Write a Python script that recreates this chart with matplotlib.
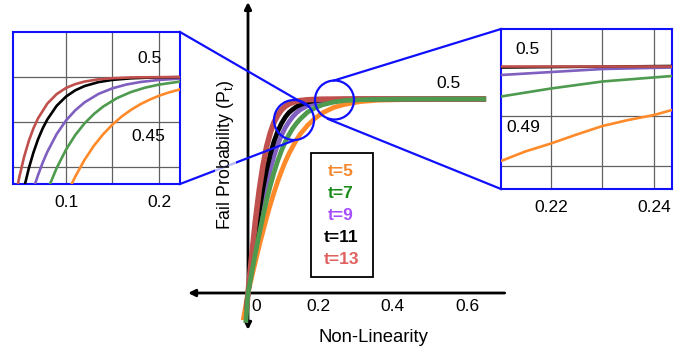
import numpy as np
import matplotlib
matplotlib.use("Agg")
import matplotlib.pyplot as plt
from matplotlib.patches import Ellipse, Rectangle

plt.rcParams['font.family'] = ['Liberation Sans', 'DejaVu Sans']
plt.rcParams['mathtext.fontset'] = 'custom'
plt.rcParams['mathtext.rm'] = 'Liberation Sans'

# series: t=5, 7, 9, 11, 13
labels = ['t=5', 't=7', 't=9', 't=11', 't=13']
line_colors = ['#ff8a2a', '#4e9a4e', '#7f5fbf', '#000000', '#c0504d']
label_colors = ['#f5862a', '#1a8a1a', '#a64dff', '#000000', '#e06060']

# big plot (shared x grid, plus a short tail below zero)
main_grid = [0, 0.01, 0.02, 0.03, 0.04, 0.05, 0.06, 0.07, 0.08, 0.09, 0.10, 0.11, 0.12,
             0.13, 0.14, 0.16, 0.18, 0.20, 0.23, 0.26, 0.30, 0.35, 0.45, 0.64]
main_tail_x = [-0.013, -0.006, -0.005, -0.004, -0.004]
main_tail_y = [-0.07, -0.077, -0.045, -0.04, -0.045]
main_y = [
    [0, 0.041, 0.081, 0.121, 0.158, 0.194, 0.228, 0.259, 0.288, 0.314, 0.338, 0.359,
     0.377, 0.394, 0.409, 0.432, 0.450, 0.464, 0.478, 0.486, 0.493, 0.497, 0.499, 0.5],
    [0, 0.052, 0.103, 0.151, 0.197, 0.239, 0.277, 0.311, 0.341, 0.367, 0.389, 0.408,
     0.424, 0.437, 0.448, 0.466, 0.477, 0.485, 0.492, 0.496, 0.498, 0.499, 0.5, 0.5],
    [0, 0.063, 0.123, 0.181, 0.233, 0.279, 0.319, 0.354, 0.383, 0.406, 0.426, 0.441,
     0.454, 0.464, 0.472, 0.483, 0.489, 0.494, 0.497, 0.499, 0.4995, 0.5, 0.5, 0.5],
    [0, 0.074, 0.146, 0.211, 0.269, 0.318, 0.358, 0.391, 0.417, 0.437, 0.453, 0.465,
     0.473, 0.480, 0.485, 0.492, 0.496, 0.498, 0.499, 0.4996, 0.5, 0.5, 0.5, 0.5],
    [0, 0.097, 0.187, 0.264, 0.327, 0.377, 0.413, 0.440, 0.458, 0.472, 0.481, 0.487,
     0.491, 0.494, 0.496, 0.498, 0.499, 0.4996, 0.4998, 0.5, 0.5, 0.5, 0.5, 0.5],
]
main_order = [0, 2, 3, 4, 1]
main_xticks = [0, 0.2, 0.4, 0.6]

# left zoom box
left_x = [
    [0.1061, 0.11, 0.12, 0.13, 0.14, 0.15, 0.16, 0.17, 0.18, 0.19, 0.20, 0.21, 0.2226],
    [0.0828, 0.09, 0.10, 0.11, 0.12, 0.13, 0.14, 0.155, 0.17, 0.185, 0.20, 0.2226],
    [0.0667, 0.07, 0.075, 0.08, 0.09, 0.10, 0.11, 0.12, 0.135, 0.15, 0.165, 0.18, 0.20, 0.2226],
    [0.0559, 0.06, 0.065, 0.07, 0.075, 0.08, 0.09, 0.10, 0.11, 0.12, 0.135, 0.15, 0.17, 0.19, 0.2226],
    [0.0483, 0.05, 0.055, 0.06, 0.065, 0.07, 0.08, 0.09, 0.10, 0.11, 0.12, 0.135, 0.15, 0.17, 0.2226],
]
left_y = [
    [0.381, 0.3893, 0.408, 0.4235, 0.4364, 0.4472, 0.4561, 0.4635, 0.4697, 0.4748, 0.4791, 0.4826, 0.4862],
    [0.381, 0.3988, 0.4192, 0.4355, 0.4485, 0.4588, 0.4671, 0.4766, 0.4833, 0.4881, 0.4915, 0.4949],
    [0.381, 0.3911, 0.4049, 0.4169, 0.4366, 0.4516, 0.463, 0.4718, 0.4812, 0.4874, 0.4916, 0.4944, 0.4967, 0.4982],
    [0.381, 0.3984, 0.4161, 0.4309, 0.443, 0.4529, 0.468, 0.4782, 0.4852, 0.4899, 0.4943, 0.4968, 0.4985, 0.4993, 0.4998],
    [0.381, 0.3896, 0.4114, 0.4289, 0.4429, 0.4542, 0.4705, 0.481, 0.4878, 0.4921, 0.4949, 0.4974, 0.4986, 0.4995, 0.5],
]

# right zoom box
right_x = [
    [0.2103, 0.215, 0.22, 0.225, 0.23, 0.235, 0.24, 0.2435],
    [0.2103, 0.22, 0.23, 0.2435],
    [0.2103, 0.23, 0.2435],
    [0.2103, 0.2435],
    [0.2103, 0.2435],
]
right_y = [
    [0.481, 0.4829, 0.4845, 0.4863, 0.488, 0.4892, 0.4902, 0.4912],
    [0.4939, 0.4955, 0.4969, 0.498],
    [0.4982, 0.4994, 0.4997],
    [0.4997, 0.5],
    [0.5, 0.5],
]

W, H = 691, 352
BLUE = '#1010ff'
FS = 12.5


def fx(px):
    return px / W


def fy(py):
    return 1 - py / H


fig = plt.figure(figsize=(W / 100, H / 100), dpi=100)

# main axes over the whole figure: origin at pixel (248, 293)
ax = fig.add_axes([0, 0, 1, 1])
ax.set_xlim(-248 / 372, (W - 248) / 372)
ax.set_ylim((293 - H) / 388, 293 / 388)
ax.axis('off')

for i in main_order:
    xs = [main_tail_x[i]] + main_grid
    ys = [main_tail_y[i]] + main_y[i]
    ax.plot(xs, ys, color=line_colors[i], lw=4 if i == 4 else 3.4,
            solid_capstyle='butt', solid_joinstyle='round', zorder=3)

# axes arrows
ax.annotate('', xy=(0, 0.75), xytext=(0, -0.095),
            arrowprops=dict(arrowstyle='<|-|>', color='black', lw=2,
                            mutation_scale=10, shrinkA=0, shrinkB=0), zorder=2)
ax.annotate('', xy=(-0.161, 0), xytext=(0.69, 0),
            arrowprops=dict(arrowstyle='-|>', color='black', lw=2,
                            mutation_scale=10, shrinkA=0, shrinkB=0), zorder=2)

for v in main_xticks:
    if v == 0:
        ax.text(0.01, -0.036, '0', ha='left', va='center', fontsize=FS)
    else:
        ax.text(v - 0.011, -0.036, f'{v:g}', ha='center', va='center', fontsize=FS)
ax.text(0.538, 0.541, '0.5', ha='center', va='center', fontsize=FS)

fig.text(fx(373), fy(337), 'Non-Linearity', ha='center', va='center', fontsize=13.3)
fig.text(fx(225), fy(155), 'Fail Probability (P$_\\mathregular{t}$)', rotation=90,
         ha='center', va='center', fontsize=12.8, zorder=6,
         bbox=dict(facecolor='white', alpha=0.7, edgecolor='none', pad=0))

# legend box
ax.add_patch(Rectangle((fx(311), fy(277)), fx(373) - fx(311), fy(153) - fy(277),
                       transform=fig.transFigure, fill=False, edgecolor='black',
                       lw=1.3, zorder=4))
for k, (lab, col) in enumerate(zip(labels, label_colors)):
    fig.text(fx(341), fy(171 + 22 * k), lab, color=col, ha='center', va='center',
             fontsize=12.5, fontweight='bold')

# zoom circles and connectors
for cx, cy, r in [(294, 120, 20), (334.5, 100, 19.5)]:
    ax.add_patch(Ellipse((fx(cx), fy(cy)), 2 * r / W, 2 * r / H, transform=fig.transFigure,
                         fill=False, edgecolor=BLUE, lw=1.6, zorder=5))
for (x0, y0), (x1, y1) in [((180, 32), (308, 106)), ((180, 184), (295, 140)),
                           ((334, 80.5), (501, 29)), ((328, 119), (501, 189))]:
    ax.plot([fx(x0), fx(x1)], [fy(y0), fy(y1)], color=BLUE, lw=1.6,
            transform=fig.transFigure, zorder=5)


def inset(rect, xs, ys, xlim, ylim, xticks, xlabels, yticks, pad):
    a = fig.add_axes(rect)
    for i in range(5):
        a.plot(xs[i], ys[i], color=line_colors[i], lw=1.9, zorder=3)
    a.set_xlim(*xlim)
    a.set_ylim(*ylim)
    a.set_xticks(xticks, xlabels, fontsize=FS)
    a.set_yticks(yticks, [])
    a.tick_params(length=0, pad=pad)
    a.grid(True, color='#606060', lw=0.9)
    for s in a.spines.values():
        s.set_color(BLUE)
        s.set_linewidth(1.5)
    return a


la = inset([fx(13), fy(184), fx(180) - fx(13), fy(32) - fy(184)], left_x, left_y,
           (0.043, 0.2226), (0.381, 0.55), [0.1, 0.15, 0.2], ['0.1', '', '0.2'],
           [0.4, 0.45, 0.5], 8)
la.text(0.19, 0.521, '0.5', ha='center', va='center', fontsize=FS)
la.text(0.189, 0.4333, '0.45', ha='center', va='center', fontsize=FS)

ra = inset([fx(501), fy(189), fx(672) - fx(501), fy(29) - fy(189)], right_x, right_y,
           (0.2103, 0.2435), (0.4754, 0.5074), [0.22, 0.23, 0.24], ['0.22', '', '0.24'],
           [0.48, 0.49], 8)
ra.text(0.2155, 0.5034, '0.5', ha='center', va='center', fontsize=FS)
ra.text(0.2146, 0.4876, '0.49', ha='center', va='center', fontsize=FS)

fig.savefig('out.png', dpi=100)
